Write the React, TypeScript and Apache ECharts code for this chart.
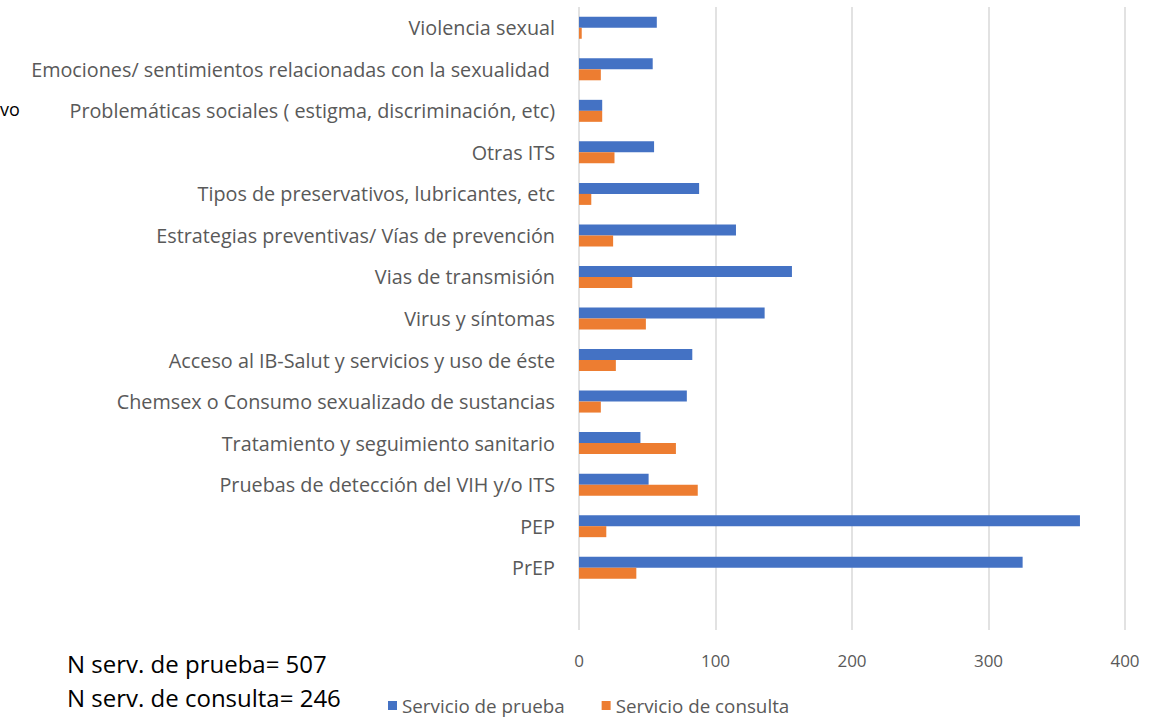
import React, { useEffect, useRef } from "react";
import * as echarts from "echarts";

const categories = [
  "Violencia sexual",
  "Emociones/ sentimientos relacionadas con la sexualidad ",
  "Problemáticas sociales ( estigma, discriminación, etc)",
  "Otras ITS",
  "Tipos de preservativos, lubricantes, etc",
  "Estrategias preventivas/ Vías de prevención",
  "Vias de transmisión",
  "Virus y síntomas",
  "Acceso al IB-Salut y servicios y uso de éste",
  "Chemsex o Consumo sexualizado de sustancias",
  "Tratamiento y seguimiento sanitario",
  "Pruebas de detección del VIH y/o ITS",
  "PEP",
  "PrEP",
  "",
];

const prueba = [57, 54, 17, 55, 88, 115, 156, 136, 83, 79, 45, 51, 367, 325, null];
const consulta = [2, 16, 17, 26, 9, 25, 39, 49, 27, 16, 71, 87, 20, 42, null];

const xTicks = [0, 100, 200, 300, 400];
const notes = ["N serv. de prueba= 507", "N serv. de consulta= 246"];

export default function App() {
  const ref = useRef<HTMLDivElement>(null);
  useEffect(() => {
    if (!ref.current) return;
    const chart = echarts.init(ref.current, null, { renderer: "svg" });
    const font = "Open Sans";
    chart.setOption({
      animation: false,
      textStyle: { fontFamily: font },
      grid: { left: 579, right: 45, top: 7, bottom: 88, containLabel: false },
      xAxis: {
        type: "value",
        min: xTicks[0],
        max: xTicks[xTicks.length - 1],
        interval: 100,
        axisLine: { show: false },
        axisTick: { show: false },
        axisLabel: { color: "#595959", fontSize: 17, margin: 22, fontFamily: font },
        splitLine: { show: true, lineStyle: { color: "#d9d9d9", width: 1.5 } },
      },
      yAxis: {
        type: "category",
        data: categories,
        inverse: true,
        axisLine: { show: false },
        axisTick: { show: false },
        axisLabel: { color: "#595959", fontSize: 19.8, margin: 24, fontFamily: font },
        splitLine: { show: false },
      },
      legend: {
        left: 383,
        top: 691,
        itemWidth: 9,
        itemHeight: 9,
        itemGap: 37,
        icon: "rect",
        textStyle: { color: "#595959", fontSize: 18.8, fontFamily: font },
        data: ["Servicio de prueba", "Servicio de consulta"],
      },
      series: [
        {
          name: "Servicio de prueba",
          type: "bar",
          data: prueba,
          barWidth: 11,
          barGap: "0%",
          itemStyle: { color: "#4472C4" },
        },
        {
          name: "Servicio de consulta",
          type: "bar",
          data: consulta,
          barWidth: 11,
          barGap: "0%",
          itemStyle: { color: "#ED7D31" },
        },
      ],
      graphic: [
        {
          type: "text",
          left: 0,
          top: 100,
          style: { text: "vo", fill: "#000", fontSize: 18, fontFamily: font },
        },
        {
          type: "text",
          left: 67,
          top: 651,
          style: { text: notes[0], fill: "#000", fontSize: 24, fontFamily: font },
        },
        {
          type: "text",
          left: 67,
          top: 685,
          style: { text: notes[1], fill: "#000", fontSize: 24, fontFamily: font },
        },
      ],
    });
    return () => chart.dispose();
  }, []);
  return (
    <div
      ref={ref}
      style={{ position: "fixed", left: 0, top: 0, width: 1170, height: 718, background: "#fff" }}
    />
  );
}
